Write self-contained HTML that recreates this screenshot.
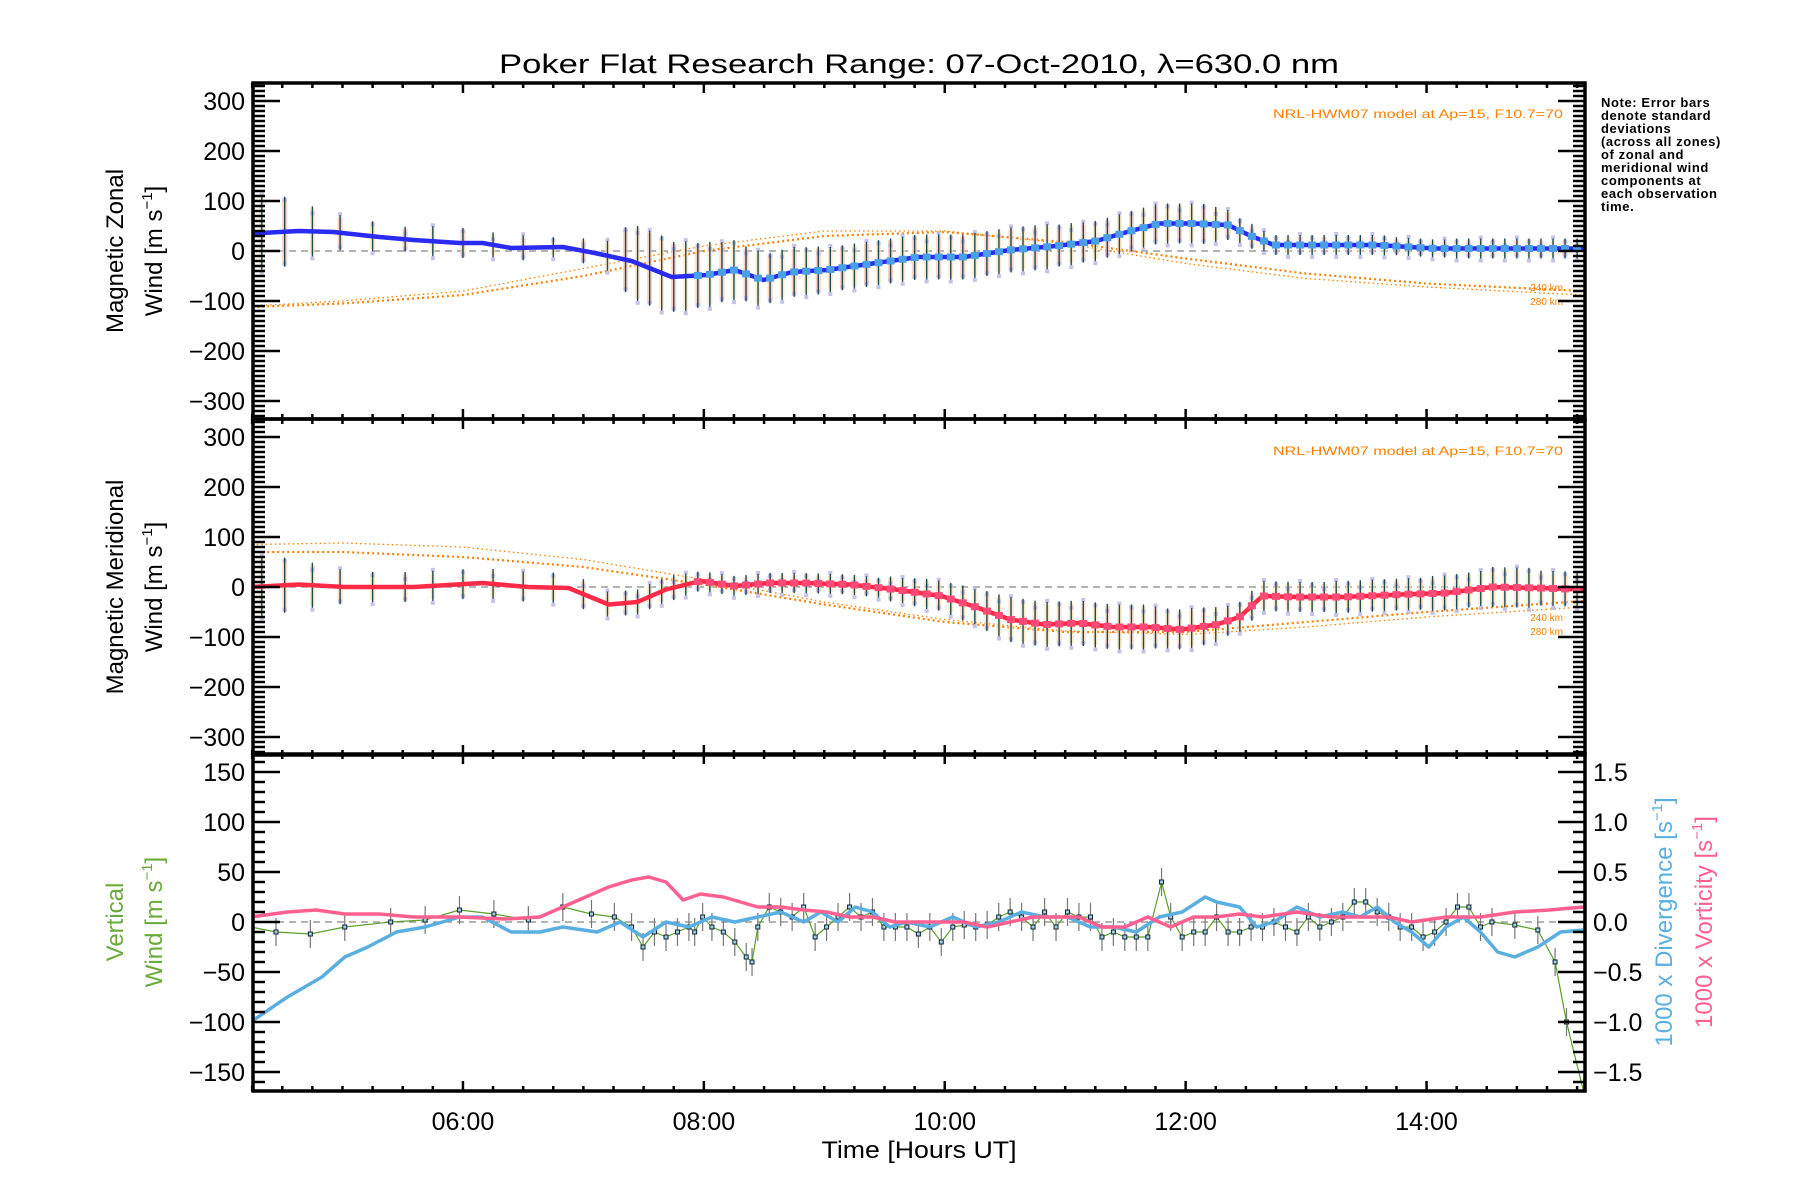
<!DOCTYPE html>
<html><head><meta charset="utf-8"><style>
html,body{margin:0;padding:0;background:#fff}
svg{display:block;font-family:"Liberation Sans",sans-serif}
</style></head><body>
<svg id="c" width="1800" height="1200" viewBox="0 0 1800 1200">
<text x="919" y="73" font-size="27" text-anchor="middle" textLength="840" lengthAdjust="spacingAndGlyphs">Poker Flat Research Range: 07-Oct-2010, λ=630.0 nm</text>
<g font-size="13" font-weight="bold" letter-spacing="0.6">
<text x="1601" y="107">Note: Error bars</text><text x="1601" y="120">denote standard</text><text x="1601" y="133">deviations</text><text x="1601" y="146">(across all zones)</text><text x="1601" y="159">of zonal and</text><text x="1601" y="172">meridional wind</text><text x="1601" y="185">components at</text><text x="1601" y="198">each observation</text><text x="1601" y="211">time.</text>
</g>
<g font-size="24" text-anchor="middle">
<text transform="translate(123,251) rotate(-90)">Magnetic Zonal</text>
<text transform="translate(162,251) rotate(-90)">Wind [m s<tspan font-size="15" dy="-10">−1</tspan><tspan dy="10">]</tspan></text>
<text transform="translate(123,587) rotate(-90)">Magnetic Meridional</text>
<text transform="translate(162,587) rotate(-90)">Wind [m s<tspan font-size="15" dy="-10">−1</tspan><tspan dy="10">]</tspan></text>
<text transform="translate(123,922) rotate(-90)" fill="#6aaa3a">Vertical</text>
<text transform="translate(162,922) rotate(-90)" fill="#6aaa3a">Wind [m s<tspan font-size="15" dy="-10">−1</tspan><tspan dy="10">]</tspan></text>
<text transform="translate(1672,922) rotate(-90)" fill="#5aafe0">1000 x Divergence [s<tspan font-size="15" dy="-10">−1</tspan><tspan dy="10">]</tspan></text>
<text transform="translate(1712,922) rotate(-90)" fill="#ff6090">1000 x Vorticity [s<tspan font-size="15" dy="-10">−1</tspan><tspan dy="10">]</tspan></text>
</g>
<text x="919" y="1158" font-size="24" text-anchor="middle" textLength="195" lengthAdjust="spacingAndGlyphs">Time [Hours UT]</text>
<g font-size="12" fill="#ff7f00" text-anchor="end">
<text x="1563" y="118" textLength="290" lengthAdjust="spacingAndGlyphs">NRL-HWM07 model at Ap=15, F10.7=70</text>
<text x="1563" y="455" textLength="290" lengthAdjust="spacingAndGlyphs">NRL-HWM07 model at Ap=15, F10.7=70</text>
<text x="1563" y="291" font-size="10">240 km</text><text x="1563" y="305" font-size="10">280 km</text>
<text x="1563" y="621" font-size="10">240 km</text><text x="1563" y="635" font-size="10">280 km</text>
</g>
</svg>
<script>
// ---- data ----
const xTickLabels = ["06:00","08:00","10:00","12:00","14:00"];
const xTickHours = [6,8,10,12,14];
const windTicks = [-300,-200,-100,0,100,200,300];
const vertTicks = [-150,-100,-50,0,50,100,150];
const ratioTicks = ["-1.5","-1.0","-0.5","0.0","0.5","1.0","1.5"];

const zonalT = [4.238,4.638,4.924,5.305,5.590,5.971,6.162,6.400,6.829,7.114,7.400,7.733,8.019,8.257,8.495,8.733,9.019,9.400,9.781,10.162,10.543,10.924,11.257,11.543,11.781,12.067,12.352,12.543,12.733,13.114,13.590,14.067,14.543,15.019,15.305];
const zonalV = [35,40,38,28,22,16,16,6,8,-5,-20,-52,-48,-38,-58,-42,-38,-25,-12,-12,2,10,20,40,55,55,52,30,12,12,12,5,5,5,5];
const meridT = [4.238,4.638,5.019,5.590,6.162,6.543,6.876,7.210,7.448,7.686,7.971,8.257,8.543,8.829,9.210,9.590,9.971,10.257,10.543,10.829,11.114,11.400,11.686,11.971,12.257,12.448,12.638,12.924,13.305,13.781,14.162,14.543,14.924,15.305];
const meridV = [0,5,0,0,8,0,-2,-35,-30,-5,12,2,8,8,5,-5,-18,-40,-65,-75,-72,-80,-80,-85,-75,-60,-18,-20,-20,-15,-12,0,-2,-5];

const hwmT = [4.25,5,6,7,8,9,10,11,12,13,14,15.3];
const hwmZonalA = [-112,-105,-88,-50,0,30,38,18,-15,-45,-65,-80];
const hwmZonalB = [-110,-100,-80,-35,10,40,40,15,-25,-55,-72,-88];
const hwmMeridA = [70,70,60,40,5,-35,-70,-90,-90,-70,-50,-28];
const hwmMeridB = [85,88,80,55,15,-30,-65,-88,-95,-80,-60,-40];

const barT = [4.33,4.52,4.75,4.98,5.25,5.52,5.75,6.0,6.25,6.5,6.75,7.0,7.2,7.35,7.45,7.55,7.65,
7.75,7.85,7.95,8.05,8.15,8.25,8.35,8.45,8.55,8.65,8.75,8.85,8.95,9.05,9.15,9.25,9.35,9.45,
9.55,9.65,9.75,9.85,9.95,10.05,10.15,10.25,10.35,10.45,10.55,10.65,10.75,10.85,10.95,11.05,11.15,11.25,11.35,11.45,
11.55,11.65,11.75,11.85,11.95,12.05,12.15,12.25,12.35,12.45,12.55,12.65,12.75,12.85,12.95,13.05,13.15,13.25,13.35,13.45,
13.55,13.65,13.75,13.85,13.95,14.05,14.15,14.25,14.35,14.45,14.55,14.65,14.75,14.85,14.95,15.05,15.15,15.25];
const zonalErr = [75,70,50,35,30,25,30,30,25,25,20,25,30,65,75,75,75,
70,70,65,65,60,60,55,55,50,50,50,48,48,45,45,45,45,45,
45,45,45,45,45,45,45,45,45,45,45,45,45,45,42,42,40,40,40,40,
40,40,40,40,40,40,40,35,30,25,25,20,20,20,20,20,20,20,20,20,
20,20,18,18,18,18,18,20,20,20,20,20,20,20,20,20,20,20];
const meridErr = [60,55,45,35,30,30,30,30,30,30,30,30,25,25,25,25,25,
25,22,20,20,20,20,20,20,20,20,20,20,20,20,20,20,20,20,
25,25,28,30,30,32,35,35,40,42,45,45,45,45,45,45,45,45,45,45,
45,45,42,40,40,40,38,35,30,30,30,30,30,30,30,30,30,32,32,32,
32,32,32,32,32,35,35,35,35,35,40,40,40,40,35,35,35,35];

const vertT = [4.238,4.448,4.733,5.019,5.400,5.686,5.971,6.257,6.543,6.829,7.067,7.257,7.400,7.495,7.590,7.686,7.781,7.876,7.924,7.990,8.067,8.162,8.257,8.352,8.400,8.448,8.543,8.638,8.733,8.829,8.924,9.019,9.114,9.210,9.305,9.400,9.495,9.590,9.686,9.781,9.876,9.971,10.067,10.162,10.257,10.352,10.448,10.543,10.638,10.733,10.829,10.924,11.019,11.114,11.210,11.305,11.400,11.495,11.590,11.686,11.800,11.876,11.971,12.067,12.162,12.257,12.352,12.448,12.543,12.638,12.733,12.829,12.924,13.019,13.114,13.210,13.305,13.400,13.495,13.590,13.686,13.781,13.876,13.971,14.067,14.162,14.257,14.352,14.448,14.543,14.733,14.924,15.067,15.162,15.305];
const vertV = [-5,-10,-12,-5,0,2,12,8,2,15,8,5,-5,-25,-10,-15,-10,-5,-10,5,-5,-10,-20,-35,-40,-5,15,10,5,15,-15,-5,5,15,5,10,-5,-5,-5,-12,-5,-20,-5,-3,-5,-3,5,10,5,-5,10,-5,10,5,5,-15,-10,-15,-15,-15,40,5,-15,-10,-10,5,-10,-10,-5,-5,0,-5,-10,5,-5,0,5,20,20,10,5,-5,-5,-15,-10,0,15,15,-5,0,-3,-8,-40,-100,-170];
const VERT_ERR = 14;

const divT = [4.238,4.543,4.829,5.019,5.210,5.448,5.686,5.971,6.162,6.400,6.638,6.829,7.114,7.305,7.495,7.686,7.876,8.067,8.257,8.448,8.638,8.829,8.971,9.114,9.257,9.400,9.543,9.686,9.876,10.067,10.257,10.448,10.638,10.829,11.019,11.210,11.400,11.590,11.781,11.971,12.162,12.257,12.448,12.590,12.733,12.924,13.114,13.305,13.448,13.590,13.733,13.876,14.019,14.162,14.305,14.448,14.590,14.733,14.924,15.114,15.305];
const divV = [-1.00,-0.75,-0.55,-0.35,-0.25,-0.10,-0.05,0.05,0.05,-0.10,-0.10,-0.05,-0.10,0.00,-0.15,0.00,-0.05,0.05,0.00,0.05,0.10,0.00,0.10,0.00,0.15,0.10,-0.05,0.00,-0.05,0.05,-0.05,0.00,0.10,0.05,0.05,-0.05,-0.05,-0.10,0.05,0.10,0.25,0.20,0.15,-0.05,0.00,0.15,0.05,0.10,0.05,0.15,0.00,-0.10,-0.25,-0.05,0.05,-0.10,-0.30,-0.35,-0.25,-0.10,-0.08];
const vortT = [4.238,4.543,4.781,5.019,5.305,5.590,5.971,6.352,6.638,6.924,7.210,7.400,7.543,7.686,7.829,7.971,8.162,8.305,8.448,8.638,8.829,9.019,9.210,9.400,9.590,9.781,9.971,10.162,10.352,10.543,10.733,10.924,11.114,11.305,11.495,11.686,11.876,12.067,12.257,12.448,12.638,12.924,13.210,13.495,13.686,13.876,14.162,14.448,14.733,15.019,15.305];
const vortV = [0.05,0.10,0.12,0.08,0.08,0.05,0.05,0.03,0.05,0.20,0.35,0.42,0.45,0.40,0.22,0.28,0.25,0.20,0.15,0.15,0.12,0.10,0.05,0.05,0.00,0.00,0.00,0.00,-0.05,0.00,0.05,0.05,0.05,-0.05,-0.05,0.05,-0.05,0.05,0.05,0.08,0.05,0.10,0.05,0.05,0.05,0.00,0.05,0.05,0.10,0.12,0.15];

// ---- axes ----
const L=253,R=1585,T0=4.257,PXH=120.45;
const P1={top:83,bot:419,zero:251,k:0.5}, P2={top:419,bot:755,zero:587,k:0.5}, P3={top:754,bot:1091,zero:922,k:1};
const X=t=>L+(t-T0)*PXH;
const Y=(p,v)=>p.zero-v*p.k;
const YR=v=>P3.zero-v*100;
const NS='http://www.w3.org/2000/svg', svg=document.getElementById('c');
function mk(tag,attrs,parent){const e=document.createElementNS(NS,tag);for(const k in attrs)e.setAttribute(k,attrs[k]);(parent||svg).appendChild(e);return e;}
function lerp(ts,vs,t){if(t<=ts[0])return vs[0];for(let i=1;i<ts.length;i++){if(t<=ts[i]){const f=(t-ts[i-1])/(ts[i]-ts[i-1]);return vs[i-1]+f*(vs[i]-vs[i-1]);}}return vs[vs.length-1];}
function pts(ts,vs,fy){return ts.map((t,i)=>X(t).toFixed(1)+','+fy(vs[i]).toFixed(1)).join(' ');}

const clipD=mk('defs',{});
[P1,P2,P3].forEach((p,i)=>{const c=mk('clipPath',{id:'clip'+i},clipD);mk('rect',{x:L,y:p.top,width:R-L,height:p.bot-p.top},c);});

[P1,P2,P3].forEach((p,i)=>{
  const z=mk('line',{x1:L,x2:R,y1:p.zero,y2:p.zero,stroke:'#888','stroke-width':1.3,'stroke-dasharray':'7 5'});
  
  
});

function hwm(p,A,B,ci,name){
  const g=mk('g',{'clip-path':'url(#clip'+ci+')'});
  
  
  mk('polyline',{points:pts(hwmT,A,v=>Y(p,v)),fill:'none',stroke:'#ff7f00','stroke-width':2.2,'stroke-dasharray':'2 3'},g);
  mk('polyline',{points:pts(hwmT,B,v=>Y(p,v)),fill:'none',stroke:'#ff7f00','stroke-width':1.3,'stroke-dasharray':'1.5 3'},g);
}
hwm(P1,hwmZonalA,hwmZonalB,0,'hwm-zonal-model');
hwm(P2,hwmMeridA,hwmMeridB,1,'hwm-meridional-model');

function bars(p,ts,vs,err,ci,name,fill,dark){
  const g=mk('g',{'clip-path':'url(#clip'+ci+')'});
  
  
  barT.forEach((t,i)=>{
    const x=X(t),c=lerp(ts,vs,t),e=err[i];
    const yt=Y(p,c+e),yb=Y(p,c-e);
    mk('rect',{x:x-2.5,y:yt+2,width:5,height:Math.max(1,yb-yt-4),fill:i%2==0?'#fbe3b4':fill,opacity:0.7},g);
    mk('rect',{x:x-2,y:yt+(i%3)*4-3,width:4,height:4,fill:'#bab4e0',opacity:0.8},g);
    mk('rect',{x:x-2,y:yb-(i%2)*5,width:4,height:4,fill:'#bab4e0',opacity:0.8},g);
    mk('line',{x1:x,x2:x,y1:yt,y2:yb,stroke:dark,'stroke-width':1.4},g);
  });
}
bars(P1,zonalT,zonalV,zonalErr,0,'zonal-error-bars','#f8c0ae','#1c4a55');
bars(P2,meridT,meridV,meridErr,1,'meridional-error-bars','#fbd6b0','#1c4a55');

const zl=mk('polyline',{points:pts(zonalT,zonalV,v=>Y(P1,v)),fill:'none',stroke:'#2a2af0','stroke-width':4.5,'stroke-linejoin':'round','clip-path':'url(#clip0)'});


const ml=mk('polyline',{points:pts(meridT,meridV,v=>Y(P2,v)),fill:'none',stroke:'#ff2a48','stroke-width':4.5,'stroke-linejoin':'round','clip-path':'url(#clip1)'});


barT.forEach(t=>{
  if(t>7.9){
    const a=mk('rect',{x:X(t)-4,y:Y(P1,lerp(zonalT,zonalV,t))-3.5,width:8,height:7,fill:'#4aa0e8'});
    
    
    const b=mk('rect',{x:X(t)-4,y:Y(P2,lerp(meridT,meridV,t))-3.5,width:8,height:7,fill:'#ff4a78'});
    
    
  }
});

const g3=mk('g',{'clip-path':'url(#clip2)'});


vertT.forEach((t,i)=>{mk('line',{x1:X(t),x2:X(t),y1:Y(P3,vertV[i]+VERT_ERR),y2:Y(P3,vertV[i]-VERT_ERR),stroke:'#777','stroke-width':1.2},g3);});
mk('polyline',{points:pts(vertT,vertV,v=>Y(P3,v)),fill:'none',stroke:'#5aa02a','stroke-width':1.2},g3);
vertT.forEach((t,i)=>{mk('rect',{x:X(t)-2,y:Y(P3,vertV[i])-2,width:4,height:4,fill:'#9fd0e0',stroke:'#123',"stroke-width":1},g3);});
const dl=mk('polyline',{points:pts(divT,divV,YR),fill:'none',stroke:'#5aafe0','stroke-width':3.5,'stroke-linejoin':'round','clip-path':'url(#clip2)'});


const vl=mk('polyline',{points:pts(vortT,vortV,YR),fill:'none',stroke:'#ff6090','stroke-width':3.5,'stroke-linejoin':'round','clip-path':'url(#clip2)'});



const ax=mk('g',{stroke:'#000'});


[P1,P2,P3].forEach(p=>{
  mk('rect',{x:L,y:p.top,width:R-L,height:p.bot-p.top,fill:'none','stroke-width':3.5},ax);
  for(let t=4.25;t<=15.31;t+=0.25){
    const x=X(t),maj=Math.abs(t/2-Math.round(t/2))<1e-6;
    const len=maj?10:5;
    mk('line',{x1:x,x2:x,y1:p.top,y2:p.top+len,'stroke-width':2.5},ax);
    mk('line',{x1:x,x2:x,y1:p.bot,y2:p.bot-len,'stroke-width':2.5},ax);
  }
});
[P1,P2].forEach(p=>{
  for(let v=-330;v<=330;v+=10){
    const y=Y(p,v),maj=v%100==0;
    mk('line',{x1:L,x2:L+(maj?27:12),y1:y,y2:y,'stroke-width':2.5},ax);
    mk('line',{x1:R,x2:R-(maj?27:12),y1:y,y2:y,'stroke-width':2.5},ax);
  }
});
for(let v=-160;v<=160;v+=10){
  const y=Y(P3,v),maj=v%50==0;
  mk('line',{x1:L,x2:L+(maj?27:12),y1:y,y2:y,'stroke-width':2.5},ax);
  mk('line',{x1:R,x2:R-(maj?27:12),y1:y,y2:y,'stroke-width':2.5},ax);
}
const lab=mk('g',{'font-size':25,'text-anchor':'end'});


[P1,P2].forEach(p=>windTicks.forEach(v=>{mk('text',{x:L-8,y:Y(p,v)+9},lab).textContent=(v<0?'−':'')+Math.abs(v);}));
vertTicks.forEach(v=>{mk('text',{x:L-8,y:Y(P3,v)+9},lab).textContent=(v<0?'−':'')+Math.abs(v);});
ratioTicks.forEach(s=>{const v=parseFloat(s);mk('text',{x:R+8,y:YR(v)+9,'text-anchor':'start'},lab).textContent=s.replace('-','−');});
xTickHours.forEach((h,i)=>{mk('text',{x:X(h),y:1130,'text-anchor':'middle'},lab).textContent=xTickLabels[i];});
</script>
</body></html>
